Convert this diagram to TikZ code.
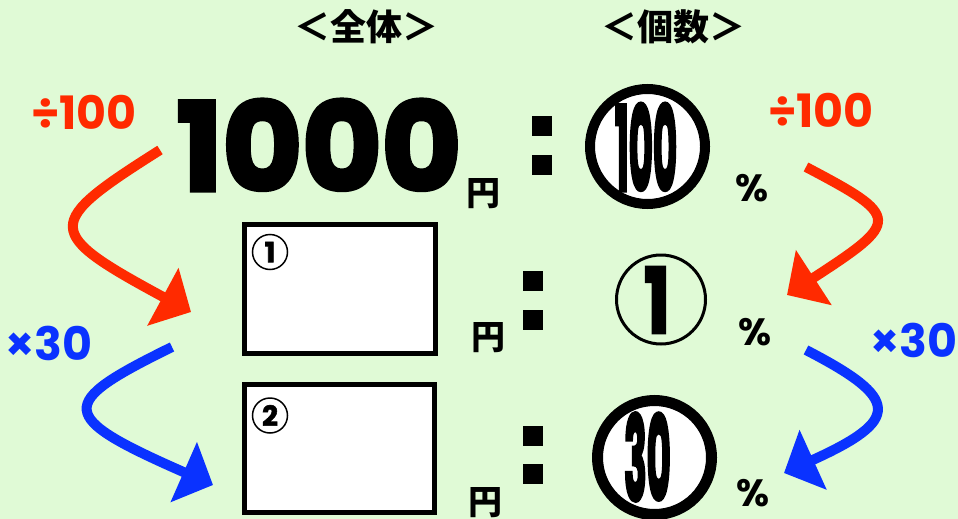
\documentclass[tikz,border=0pt]{standalone}
\usepackage{fontspec}
\setmainfont{Poppins}
\newfontfamily\jp{Noto Sans CJK JP}
\newfontfamily\heavy{Poppins}[FakeBold=2]
\newfontfamily\heavier{Poppins}[FakeBold=3.5]
\newfontfamily\condfont{Poppins}[FakeBold=4]
\usetikzlibrary{arrows.meta}
\definecolor{bg}{HTML}{E0FAD6}
\definecolor{myred}{HTML}{FF2A00}
\definecolor{myblue}{HTML}{0A32FF}
\begin{document}
\begin{tikzpicture}[x=1pt,y=-1pt,
  txt/.style={inner sep=0pt, outer sep=0pt},
  head/.style={txt, font=\jp\bfseries\fontsize{36}{36}\selectfont},
  yen/.style={txt, font=\jp\bfseries\fontsize{34}{34}\selectfont},
  pct/.style={txt, font=\bfseries\fontsize{38}{38}\selectfont},
  big/.style={txt, font=\heavier\bfseries\fontsize{122}{122}\selectfont},
  oplabel/.style={txt, font=\bfseries\fontsize{46}{46}\selectfont},
  dot/.style={rectangle, fill=black, minimum size=20pt, inner sep=0pt},
  answerbox/.style={rectangle, draw=black, line width=5pt, fill=white, inner sep=0pt},
  tag/.style={circle, draw=black, line width=1.5pt, minimum size=35pt, inner sep=0pt, font=\heavy\bfseries\fontsize{28}{28}\selectfont},
  ring/.style={circle, draw=black, inner sep=0pt},
  condnum/.style={txt, font=\condfont\bfseries\fontsize{116}{116}\selectfont},
  curvearrow/.style={line width=10pt, -{Triangle[length=32pt,width=64pt]}}
]
\fill[bg] (0,0) rectangle (958,519);
\useasboundingbox (0,0) rectangle (958,519);

% headings
\node[head] (h1) at (366,27) {＜全体＞};
\node[head] (h2) at (673,27) {＜個数＞};

% row 1
\node[big] (n1000) at (319,145) {1000};
\node[yen] (y1) at (483,194) {円};
\node[dot] (c1a) at (542,126) {};
\node[dot] (c1b) at (542,165) {};
\node[ring, fill=white, line width=10pt, minimum size=115pt] (r100) at (647.5,146.5) {};
\node[condnum] (t100) at (646,147) {\scalebox{0.32}[1]{100}};
\node[pct] (p1) at (752,188) {\%};

% row 2
\node[answerbox, minimum width=191pt, minimum height=129pt] (b1) at (340,289) {};
\node[tag] (k1) at (270,252) {1};
\node[yen] (y2) at (488,338) {円};
\node[dot] (c2a) at (533,281) {};
\node[dot] (c2b) at (533,320) {};
\node[ring, line width=3pt, minimum size=89pt] (r1) at (661,299.5) {};
\node[txt, font=\heavier\bfseries\fontsize{90}{90}\selectfont] (t1) at (657,300) {\scalebox{0.75}[1]{1}};
\node[pct] (p2) at (755,332) {\%};

% row 3
\node[answerbox, minimum width=190pt, minimum height=128pt] (b2) at (339.5,448.5) {};
\node[tag] (k2) at (270,415.5) {2};
\node[yen] (y3) at (485,503) {円};
\node[dot] (c3a) at (533,436) {};
\node[dot] (c3b) at (533,474) {};
\node[ring, fill=white, line width=11pt, minimum size=114pt] (r30) at (654.5,457.5) {};
\node[condnum] (t30) at (647.5,457) {\scalebox{0.32}[1]{30}};
\node[pct] (p3) at (753,493) {\%};

% operation labels
\node[oplabel, text=myred] (dl) at (84,112) {÷100};
\node[oplabel, text=myred] (dr) at (821,110) {÷100};
\node[oplabel, text=myblue] (ml) at (49,343) {×30};
\node[oplabel, text=myblue] (mr) at (914,340) {×30};

% arrow end points
\coordinate (rls) at (160,150);
\coordinate (rle) at (191,312);
\coordinate (bls) at (172,347);
\coordinate (ble) at (213,485);
\coordinate (rrs) at (806,167);
\coordinate (rre) at (787,295);
\coordinate (brs) at (806,350);
\coordinate (bre) at (784,473);

\draw[curvearrow, myred] (rls) .. controls (43,224) and (43,232) .. (rle);
\draw[curvearrow, myblue] (bls) .. controls (56,404) and (56,416) .. (ble);
\draw[curvearrow, myred] (rrs) .. controls (901,217) and (901,221) .. (rre);
\draw[curvearrow, myblue] (brs) .. controls (901,399) and (901,420) .. (bre);
\end{tikzpicture}
\end{document}
